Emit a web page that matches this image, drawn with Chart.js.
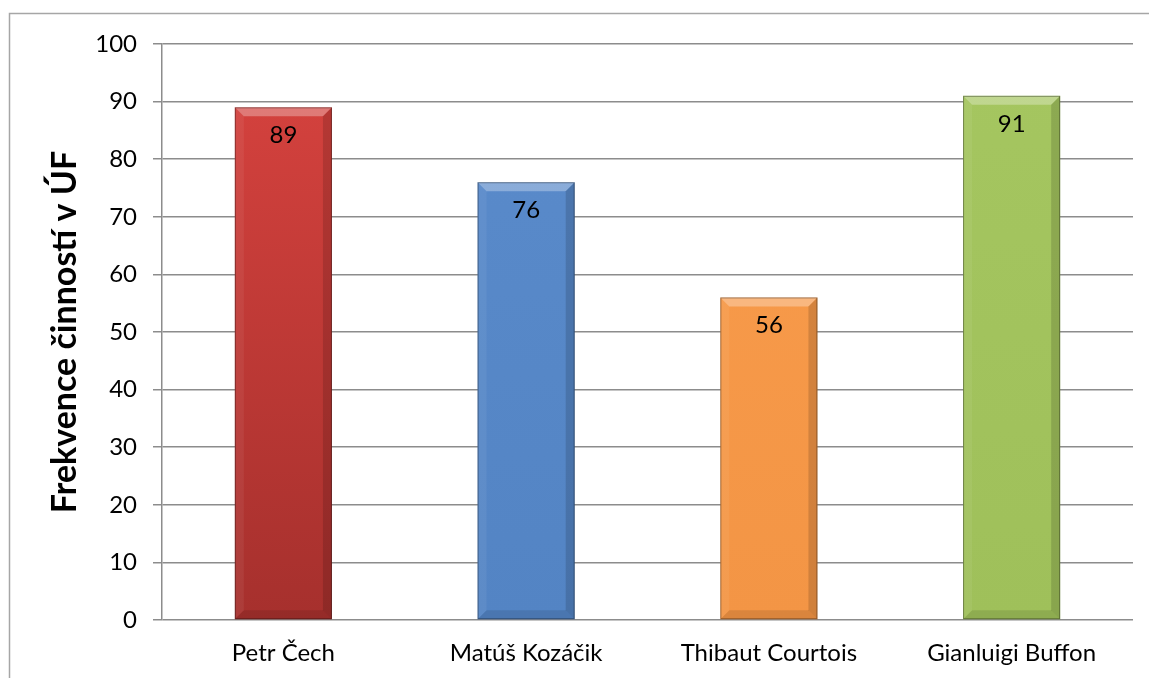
<!DOCTYPE html>
<html>
<head>
<meta charset="utf-8">
<script src="https://cdn.jsdelivr.net/npm/chart.js@4"></script>
<style>
  html, body { margin: 0; padding: 0; background: #fff; }
  #wrap { position: relative; width: 1149px; height: 678px; }
</style>
</head>
<body>
<div id="wrap"><canvas id="chart"></canvas></div>
<script>
// chart data
const players = ['Petr Čech', 'Matúš Kozáčik', 'Thibaut Courtois', 'Gianluigi Buffon'];
const frequencies = [89, 76, 56, 91];
const barColors = ['#d8433f', '#5a8bcb', '#f99c4c', '#a5c660'];
const barColorsDark = ['#a6302d', '#5384c4', '#f39545', '#9fc05a'];
const yTicks = [0, 10, 20, 30, 40, 50, 60, 70, 80, 90, 100];
const yTitle = 'Frekvence činností v ÚF';

const FONT = 'Lato, "Open Sans", sans-serif';
const GRID = '#8c8c8c';

// outer frame like the office chart box
const framePlugin = {
    id: 'frame',
    beforeDraw(chart) {
        const ctx = chart.ctx;
        ctx.save();
        ctx.strokeStyle = '#a6a6a6';
        ctx.lineWidth = 1.5;
        ctx.strokeRect(9.5, 13.5, 1160, 700);
        ctx.restore();
    }
};

// bevel + value labels on the bars
const barDecor = {
    id: 'barDecor',
    afterDatasetsDraw(chart) {
        const ctx = chart.ctx;
        const meta = chart.getDatasetMeta(0);
        meta.data.forEach((bar, i) => {
            const left = bar.x - bar.width / 2;
            const right = bar.x + bar.width / 2;
            const top = bar.y;
            const bottom = bar.base;
            const b = 9;
            ctx.save();
            // top bevel (light)
            ctx.fillStyle = 'rgba(255,255,255,0.30)';
            ctx.beginPath();
            ctx.moveTo(left, top); ctx.lineTo(right, top);
            ctx.lineTo(right - b, top + b); ctx.lineTo(left + b, top + b);
            ctx.closePath(); ctx.fill();
            // left bevel
            ctx.fillStyle = 'rgba(255,255,255,0.06)';
            ctx.beginPath();
            ctx.moveTo(left, top); ctx.lineTo(left + b, top + b);
            ctx.lineTo(left + b, bottom - b); ctx.lineTo(left, bottom);
            ctx.closePath(); ctx.fill();
            // right bevel (dark)
            ctx.fillStyle = 'rgba(0,0,0,0.14)';
            ctx.beginPath();
            ctx.moveTo(right, top); ctx.lineTo(right - b, top + b);
            ctx.lineTo(right - b, bottom - b); ctx.lineTo(right, bottom);
            ctx.closePath(); ctx.fill();
            // bottom bevel
            ctx.fillStyle = 'rgba(0,0,0,0.10)';
            ctx.beginPath();
            ctx.moveTo(left, bottom); ctx.lineTo(right, bottom);
            ctx.lineTo(right - b, bottom - b); ctx.lineTo(left + b, bottom - b);
            ctx.closePath(); ctx.fill();
            // thin dark edge
            ctx.strokeStyle = 'rgba(0,0,0,0.35)';
            ctx.lineWidth = 1;
            ctx.strokeRect(left + 0.5, top + 0.5, bar.width - 1, bottom - top - 1);
            // value label
            ctx.fillStyle = '#000';
            ctx.font = '24px ' + FONT;
            ctx.textAlign = 'center';
            ctx.textBaseline = 'middle';
            ctx.fillText(String(frequencies[i]), bar.x, top + 28);
            ctx.restore();
        });
    }
};

const ctx = document.getElementById('chart').getContext('2d');

new Chart(ctx, {
    type: 'bar',
    data: {
        labels: players,
        datasets: [{
            data: frequencies,
            backgroundColor: (c) => {
                const area = c.chart.chartArea;
                const i = c.dataIndex;
                if (!area) return barColors[i];
                const g = c.chart.ctx.createLinearGradient(0, area.top, 0, area.bottom);
                g.addColorStop(0, barColors[i]);
                g.addColorStop(1, barColorsDark[i]);
                return g;
            },
            borderWidth: 0,
            categoryPercentage: 0.8,
            barPercentage: 0.5
        }]
    },
    options: {
        responsive: true,
        maintainAspectRatio: false,
        animation: false,
        layout: { padding: { top: 44, right: 16, bottom: 0, left: 0 } },
        plugins: {
            legend: { display: false },
            tooltip: { enabled: false }
        },
        scales: {
            x: {
                grid: { display: false, drawTicks: false },
                border: { display: false },
                ticks: { color: '#000', font: { family: FONT, size: 24 }, padding: 19 },
                afterFit: (s) => { s.height = 58; }
            },
            y: {
                min: 0,
                max: 100,
                afterBuildTicks: (s) => { s.ticks = yTicks.map(v => ({ value: v })); },
                grid: { color: GRID, lineWidth: 1.5, drawTicks: true, tickLength: 9 },
                border: { display: true, color: GRID, width: 1.5 },
                ticks: { color: '#000', font: { family: FONT, size: 24 }, padding: 16 },
                title: {
                    display: true,
                    text: yTitle,
                    color: '#000',
                    font: { family: FONT, size: 34, weight: 'bold' },
                    padding: { top: 45, bottom: 0 }
                },
                afterFit: (s) => { s.width = 162; }
            }
        }
    },
    plugins: [framePlugin, barDecor]
});
</script>
</body>
</html>
